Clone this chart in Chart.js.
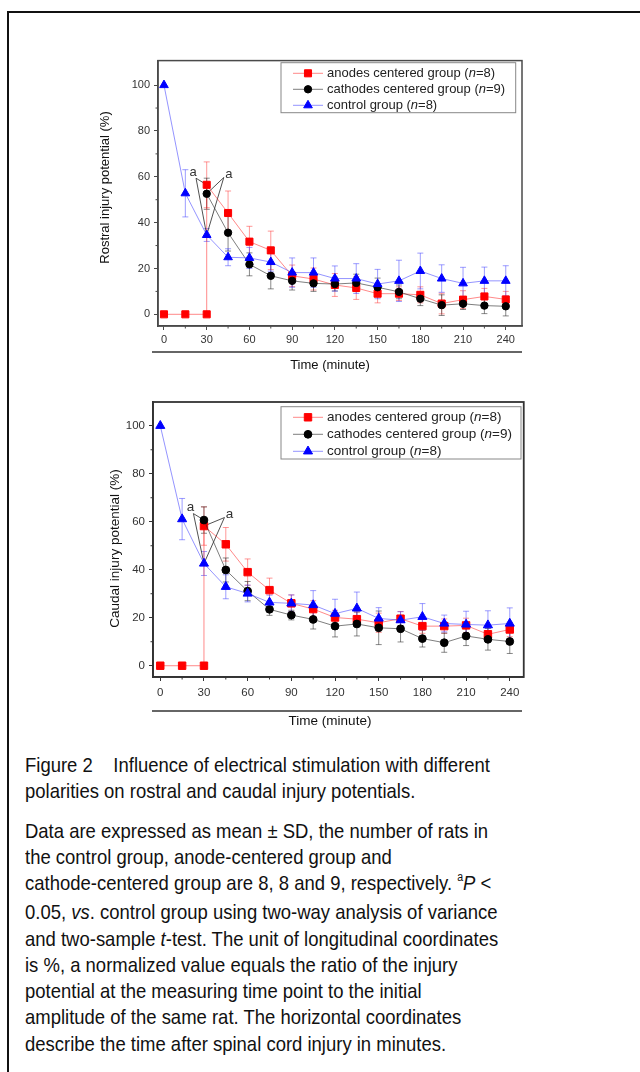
<!DOCTYPE html>
<html>
<head>
<meta charset="utf-8">
<script src="https://cdn.jsdelivr.net/npm/chart.js@4/dist/chart.umd.min.js"></script>
<style>
html, body { margin: 0; padding: 0; background: #fff; }
body { width: 640px; height: 1072px; position: relative; overflow: hidden; font-family: "Liberation Sans", Arial, sans-serif; }
#frame { position: absolute; left: 7px; top: 11px; width: 700px; height: 1200px; border: 2px solid #111; }
.plot { position: absolute; left: 90px; }
#wrap1 { top: 50px; }
#wrap2 { top: 390px; }
#caption { position: absolute; left: 25px; top: 752px; white-space: nowrap; font-family: "Liberation Sans", Arial, sans-serif; font-size: 21px; line-height: 26.25px; color: #111; transform: scaleX(0.88); transform-origin: 0 0; }
#caption p { margin: 0 0 13px 0; }
#caption sup { font-size: 12px; vertical-align: baseline; position: relative; top: -9px; }
</style>
</head>
<body>
<div id="frame"></div>
<div class="plot" id="wrap1"><canvas id="rostral" width="440" height="330"></canvas></div>
<div class="plot" id="wrap2"><canvas id="caudal" width="440" height="350"></canvas></div>
<div id="caption">
<p>Figure 2&nbsp;&nbsp;&nbsp; Influence of electrical stimulation with different<br>polarities on rostral and caudal injury potentials.</p>
<p>Data are expressed as mean ± SD, the number of rats in<br>the control group, anode-centered group and<br>cathode-centered group are 8, 8 and 9, respectively. <sup>a</sup><i>P</i> &lt;<br>0.05, <i>vs</i>. control group using two-way analysis of variance<br>and two-sample <i>t</i>-test. The unit of longitudinal coordinates<br>is %, a normalized value equals the ratio of the injury<br>potential at the measuring time point to the initial<br>amplitude of the same rat. The horizontal coordinates<br>describe the time after spinal cord injury in minutes.</p>
</div>
<script>
// time points (minutes)
var times = [0, 15, 30, 45, 60, 75, 90, 105, 120, 135, 150, 165, 180, 195, 210, 225, 240];
var anodeTimes = [0, 15, 30, 30, 45, 60, 75, 90, 105, 120, 135, 150, 165, 180, 195, 210, 225, 240];
var cathodeTimes = [30, 45, 60, 75, 90, 105, 120, 135, 150, 165, 180, 195, 210, 225, 240];
var xTicks = [0, 30, 60, 90, 120, 150, 180, 210, 240];
var xMinorTicks = [15, 45, 75, 105, 135, 165, 195, 225];
var yTicks = [0, 20, 40, 60, 80, 100];
var yMinorTicks = [10, 30, 50, 70, 90];

var groupNames = ['anodes centered group', 'cathodes centered group', 'control group'];
var groupN = [8, 9, 8];

// rostral injury potential (%), mean and SD
var rostralAnode = [0, 0, 0, 56.5, 44.2, 31.7, 27.9, 16.8, 15.4, 12.8, 11.5, 9.0, 9.0, 8.5, 4.7, 6.4, 7.8, 6.5];
var rostralAnodeSD = [null, null, null, 10, 9.6, 6.7, 8.4, 4.7, 4.8, 5, 5, 4, 3, 3.5, 4.5, 3.9, 3.5, 3.5];
var rostralCathode = [52.6, 35.6, 21.8, 16.8, 14.6, 13.5, 13.2, 13.7, 11.8, 9.8, 6.8, 4.0, 4.6, 3.8, 3.5];
var rostralCathodeSD = [6.8, 8, 5, 5.7, 4, 3.5, 3, 3.8, 4, 3, 3, 4.5, 2.5, 3.5, 4.2];
var rostralControl = [100, 52.8, 34.6, 24.9, 24.6, 22.8, 18.2, 18.2, 15.6, 15.6, 13.2, 14.6, 18.9, 15.6, 13.5, 14.6, 14.6];
var rostralControlSD = [null, 10.3, 2.8, 3.7, 4.6, 4, 6.4, 6.4, 5.5, 6.5, 6.4, 9, 7.8, 6, 7, 6, 6.6];

// caudal injury potential (%), mean and SD
var caudalAnode = [0, 0, 0, 58.2, 50.6, 39.0, 31.5, 26.0, 23.6, 20.1, 19.4, 17.9, 19.6, 16.5, 16.5, 16.8, 13.1, 15.1];
var caudalAnodeSD = [null, null, null, 8, 7, 5.5, 5, 3.5, 3.5, 3, 3, 4, 3, 3, 3, 3, 3, 3];
var caudalCathode = [60.7, 39.9, 31.1, 23.5, 21.1, 19.3, 16.5, 17.4, 15.8, 15.4, 11.3, 9.6, 12.4, 11.0, 10.1];
var caudalCathodeSD = [5.5, 5, 4, 2.5, 2, 4, 4.5, 5, 7, 5.5, 3.5, 4, 4, 4.5, 5];
var caudalControl = [100, 61.1, 42.6, 32.9, 30.1, 26.4, 26.0, 25.3, 21.7, 23.9, 19.7, 19.0, 20.4, 17.6, 17.2, 16.9, 17.6];
var caudalControlSD = [null, 8.6, 5, 5, 3.5, 3, 3.5, 6, 6, 6.8, 4.5, 3.5, 5.5, 3.5, 5.5, 6, 6.5];

// significance marks: label position (data units) and [dataset, point] targets
var rostralMarkX = [20.4, 45.5];
var rostralMarkY = [62, 61];
var rostralMarkTargets = [[[0, 3], [2, 2]], [[1, 0], [2, 2]]];
var caudalMarkX = [20.7, 47.5];
var caudalMarkY = [65.9, 63];
var caudalMarkTargets = [[[1, 0], [2, 2]], [[0, 3], [2, 2]]];

var FONT = '"Liberation Sans", Arial, sans-serif';

function pts(xs, ys) {
    return xs.map(function (x, i) { return { x: x, y: ys[i] }; });
}

function makeDatasets(anode, anodeSD, cathode, cathodeSD, control, controlSD, r) {
    return [
        {
            label: groupNames[0], data: pts(anodeTimes, anode), errors: anodeSD,
            borderColor: 'rgba(255,40,40,0.55)', errorColor: 'rgba(255,50,50,0.5)',
            pointStyle: 'rect', pointRadius: 5 * r, pointBackgroundColor: '#ff0000', pointBorderColor: '#ff0000', order: 3
        },
        {
            label: groupNames[1], data: pts(cathodeTimes, cathode), errors: cathodeSD,
            borderColor: 'rgba(40,40,40,0.6)', errorColor: 'rgba(40,40,40,0.55)',
            pointStyle: 'circle', pointRadius: 3.7 * r, pointBackgroundColor: '#000', pointBorderColor: '#000', order: 2
        },
        {
            label: groupNames[2], data: pts(times, control), errors: controlSD,
            borderColor: 'rgba(60,60,255,0.55)', errorColor: 'rgba(60,60,255,0.5)',
            pointStyle: 'triangle', pointRadius: 5 * r, pointBackgroundColor: '#0000ff', pointBorderColor: '#0000ff', order: 1
        }
    ];
}

function makeDecor(cfg) {
    return {
        id: 'decor',
        beforeDatasetsDraw: function (chart) {
            var ctx = chart.ctx;
            var ys = chart.scales.y;
            chart.data.datasets.forEach(function (ds, i) {
                var meta = chart.getDatasetMeta(i);
                ctx.save();
                ctx.strokeStyle = ds.errorColor;
                ctx.lineWidth = 1;
                meta.data.forEach(function (pt, j) {
                    var sd = ds.errors[j];
                    if (sd == null) return;
                    var v = ds.data[j].y;
                    var top = ys.getPixelForValue(v + sd);
                    var bot = ys.getPixelForValue(v - sd);
                    ctx.beginPath();
                    ctx.moveTo(pt.x, top); ctx.lineTo(pt.x, bot);
                    ctx.moveTo(pt.x - 3, top); ctx.lineTo(pt.x + 3, top);
                    ctx.moveTo(pt.x - 3, bot); ctx.lineTo(pt.x + 3, bot);
                    ctx.stroke();
                });
                ctx.restore();
            });

            // lines from the "a" marks to the compared points
            ctx.save();
            ctx.strokeStyle = 'rgba(50,50,50,0.85)';
            ctx.lineWidth = 1;
            cfg.markX.forEach(function (mx, k) {
                var px = chart.scales.x.getPixelForValue(mx) + cfg.markOffset[k][0];
                var py = ys.getPixelForValue(cfg.markY[k]) + cfg.markOffset[k][1];
                cfg.markTargets[k].forEach(function (t) {
                    var p = chart.getDatasetMeta(t[0]).data[t[1]];
                    ctx.beginPath();
                    ctx.moveTo(px, py);
                    ctx.lineTo(p.x, p.y);
                    ctx.stroke();
                });
            });
            ctx.restore();
        },
        afterDraw: function (chart) {
            var ctx = chart.ctx;
            var a = chart.chartArea;
            var xs = chart.scales.x, ys = chart.scales.y;
            ctx.save();

            // frame
            ctx.strokeStyle = cfg.axisColor;
            ctx.lineWidth = cfg.axisWidth;
            ctx.strokeRect(a.left, a.top, a.right - a.left, a.bottom - a.top);

            // minor ticks
            ctx.lineWidth = 1;
            ctx.beginPath();
            xMinorTicks.forEach(function (v) {
                var x = xs.getPixelForValue(v);
                ctx.moveTo(x, a.bottom); ctx.lineTo(x, a.bottom + 2.5);
            });
            yMinorTicks.forEach(function (v) {
                var y = ys.getPixelForValue(v);
                ctx.moveTo(a.left, y); ctx.lineTo(a.left - 2.5, y);
            });
            ctx.stroke();

            // "a" marks
            ctx.fillStyle = '#333';
            ctx.font = cfg.titleSize + 'px ' + FONT;
            ctx.textAlign = 'center';
            ctx.textBaseline = 'middle';
            cfg.markX.forEach(function (mx, k) {
                ctx.fillText('a', xs.getPixelForValue(mx), ys.getPixelForValue(cfg.markY[k]));
            });

            // x rule and axis titles
            ctx.strokeStyle = '#333';
            ctx.lineWidth = 1.5;
            ctx.beginPath();
            ctx.moveTo(62, cfg.ruleY); ctx.lineTo(432, cfg.ruleY);
            ctx.stroke();
            ctx.fillStyle = '#111';
            ctx.fillText('Time (minute)', cfg.xTitle[0], cfg.xTitle[1]);
            ctx.save();
            ctx.translate(cfg.yTitle[0], cfg.yTitle[1]);
            ctx.rotate(-Math.PI / 2);
            ctx.fillText(cfg.yLabel, 0, 0);
            ctx.restore();

            // legend
            var L = cfg.legend;
            ctx.strokeStyle = '#888';
            ctx.lineWidth = 1;
            ctx.strokeRect(L.x, L.y, L.w, L.h);
            ctx.textAlign = 'left';
            chart.data.datasets.forEach(function (ds, i) {
                var y = L.y + L.row0 + i * L.gap;
                ctx.strokeStyle = ds.borderColor;
                ctx.beginPath();
                ctx.moveTo(L.x + 12, y); ctx.lineTo(L.x + 42, y);
                ctx.stroke();
                ctx.fillStyle = ds.pointBackgroundColor;
                ctx.strokeStyle = ds.pointBorderColor;
                Chart.helpers.drawPoint(ctx, { pointStyle: ds.pointStyle, radius: ds.pointRadius, rotation: 0, borderWidth: 1 }, L.x + 27, y);
                var font = cfg.titleSize + 'px ' + FONT;
                var x = L.x + 46;
                var s1 = groupNames[i] + ' (';
                ctx.fillStyle = '#222';
                ctx.font = font;
                ctx.fillText(s1, x, y);
                x += ctx.measureText(s1).width;
                ctx.font = 'italic ' + font;
                ctx.fillText('n', x, y);
                x += ctx.measureText('n').width;
                ctx.font = font;
                ctx.fillText('=' + groupN[i] + ')', x, y);
            });
            ctx.restore();
        }
    };
}

function makeChart(canvasId, datasets, cfg) {
    var tickFont = { family: FONT, size: cfg.tickSize };
    return new Chart(document.getElementById(canvasId), {
        type: 'line',
        data: { datasets: datasets },
        options: {
            responsive: false,
            animation: false,
            devicePixelRatio: 1,
            layout: { padding: { top: cfg.padTop, right: cfg.padRight, left: 0, bottom: 0 } },
            elements: {
                line: { borderWidth: 1, tension: 0 },
                point: { borderWidth: 1 }
            },
            plugins: { legend: { display: false }, tooltip: { enabled: false } },
            scales: {
                x: {
                    type: 'linear', min: cfg.xMin, max: cfg.xMax,
                    afterBuildTicks: function (s) { s.ticks = xTicks.map(function (v) { return { value: v }; }); },
                    afterFit: function (s) { s.height = cfg.xHeight; },
                    ticks: { font: tickFont, color: '#333', padding: cfg.xPad, maxRotation: 0, autoSkip: false },
                    grid: { drawOnChartArea: false, drawTicks: true, tickLength: 4, color: cfg.axisColor },
                    border: { color: cfg.axisColor, width: cfg.axisWidth }
                },
                y: {
                    type: 'linear', min: cfg.yMin, max: cfg.yMax,
                    afterBuildTicks: function (s) { s.ticks = yTicks.map(function (v) { return { value: v }; }); },
                    afterFit: function (s) { s.width = cfg.yWidth; },
                    ticks: { font: tickFont, color: '#333', padding: 4, autoSkip: false },
                    grid: { drawOnChartArea: false, drawTicks: true, tickLength: 4, color: cfg.axisColor },
                    border: { color: cfg.axisColor, width: cfg.axisWidth }
                }
            }
        },
        plugins: [makeDecor(cfg)]
    });
}

makeChart('rostral',
    makeDatasets(rostralAnode, rostralAnodeSD, rostralCathode, rostralCathodeSD, rostralControl, rostralControlSD, 1),
    {
        xMin: -4.2, xMax: 251.4, yMin: -5.1, yMax: 110.7,
        padTop: 5, padRight: 8, yWidth: 68, xHeight: 54, xPad: 3,
        tickSize: 11, titleSize: 13, axisColor: '#4a4a4a', axisWidth: 1.5,
        yLabel: 'Rostral injury potential (%)', yTitle: [15.7, 137.5], xTitle: [240, 315], ruleY: 302,
        legend: { x: 191, y: 12.7, w: 234.7, h: 50, row0: 10.6, gap: 16 },
        markX: rostralMarkX, markY: rostralMarkY, markTargets: rostralMarkTargets,
        markOffset: [[3, 6], [-5, 3]]
    });

makeChart('caudal',
    makeDatasets(caudalAnode, caudalAnodeSD, caudalCathode, caudalCathodeSD, caudalControl, caudalControlSD, 1.05),
    {
        xMin: -5, xMax: 249.6, yMin: -4.7, yMax: 109.9,
        padTop: 12, padRight: 5, yWidth: 63, xHeight: 63, xPad: 5,
        tickSize: 11.5, titleSize: 13.5, axisColor: '#333', axisWidth: 1.8,
        yLabel: 'Caudal injury potential (%)', yTitle: [25, 158.5], xTitle: [240, 331], ruleY: 321,
        legend: { x: 191, y: 16.7, w: 240, h: 52.3, row0: 10.6, gap: 17 },
        markX: caudalMarkX, markY: caudalMarkY, markTargets: caudalMarkTargets,
        markOffset: [[3, 6], [-5, 3]]
    });
</script>
</body>
</html>
